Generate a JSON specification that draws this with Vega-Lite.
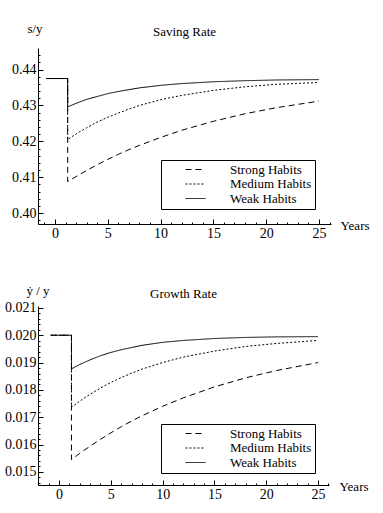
{
  "$schema": "https://vega.github.io/schema/vega-lite/v6.json",
  "padding": {"left": 4, "top": 22, "right": 0, "bottom": 0},
  "spacing": 41,
  "bounds": "full",
  "config": {
    "font": "Liberation Serif",
    "view": {"stroke": null},
    "title": {"font": "Liberation Serif", "fontSize": 13, "fontWeight": "normal", "color": "black"},
    "axis": {
      "grid": false,
      "domainColor": "black",
      "tickColor": "black",
      "labelColor": "black",
      "titleColor": "black",
      "labelFont": "Liberation Serif",
      "titleFont": "Liberation Serif",
      "labelFontSize": 14,
      "titleFontSize": 13,
      "titleFontWeight": "normal",
      "labelPadding": 7,
      "labelOverlap": false,
      "labelFlush": false
    },
    "legend": {
      "labelFont": "Liberation Serif",
      "labelFontSize": 13,
      "labelColor": "black"
    }
  },
  "resolve": {"scale": {"x": "independent", "y": "independent", "strokeDash": "independent"}, "legend": {"strokeDash": "independent"}},
  "vconcat": [
    {
      "width": 293,
      "height": 176,
      "title": {"text": "Saving Rate", "frame": "group", "offset": -17},
      "data": {"values": [
        {"h": "Strong Habits", "t": -0.85, "v": 0.4375},
        {"h": "Strong Habits", "t": 1.2, "v": 0.4375},
        {"h": "Strong Habits", "t": 1.2, "v": 0.4088},
        {"h": "Strong Habits", "t": 2, "v": 0.4102},
        {"h": "Strong Habits", "t": 3, "v": 0.4119},
        {"h": "Strong Habits", "t": 4, "v": 0.4135},
        {"h": "Strong Habits", "t": 5, "v": 0.4150},
        {"h": "Strong Habits", "t": 6, "v": 0.4164},
        {"h": "Strong Habits", "t": 7, "v": 0.4177},
        {"h": "Strong Habits", "t": 8, "v": 0.4189},
        {"h": "Strong Habits", "t": 10, "v": 0.4211},
        {"h": "Strong Habits", "t": 12, "v": 0.4231},
        {"h": "Strong Habits", "t": 15, "v": 0.4256},
        {"h": "Strong Habits", "t": 18, "v": 0.4277},
        {"h": "Strong Habits", "t": 21, "v": 0.4294},
        {"h": "Strong Habits", "t": 25, "v": 0.4312},
        {"h": "Medium Habits", "t": -0.85, "v": 0.4375},
        {"h": "Medium Habits", "t": 1.2, "v": 0.4375},
        {"h": "Medium Habits", "t": 1.2, "v": 0.4205},
        {"h": "Medium Habits", "t": 2, "v": 0.4221},
        {"h": "Medium Habits", "t": 3, "v": 0.4238},
        {"h": "Medium Habits", "t": 4, "v": 0.4254},
        {"h": "Medium Habits", "t": 5, "v": 0.4267},
        {"h": "Medium Habits", "t": 6, "v": 0.4279},
        {"h": "Medium Habits", "t": 7, "v": 0.4290},
        {"h": "Medium Habits", "t": 8, "v": 0.4300},
        {"h": "Medium Habits", "t": 10, "v": 0.4316},
        {"h": "Medium Habits", "t": 12, "v": 0.4328},
        {"h": "Medium Habits", "t": 15, "v": 0.4342},
        {"h": "Medium Habits", "t": 18, "v": 0.4352},
        {"h": "Medium Habits", "t": 21, "v": 0.4359},
        {"h": "Medium Habits", "t": 25, "v": 0.4364},
        {"h": "Weak Habits", "t": -0.85, "v": 0.4375},
        {"h": "Weak Habits", "t": 1.2, "v": 0.4375},
        {"h": "Weak Habits", "t": 1.2, "v": 0.4296},
        {"h": "Weak Habits", "t": 2, "v": 0.4306},
        {"h": "Weak Habits", "t": 3, "v": 0.4317},
        {"h": "Weak Habits", "t": 4, "v": 0.4325},
        {"h": "Weak Habits", "t": 5, "v": 0.4333},
        {"h": "Weak Habits", "t": 6, "v": 0.4339},
        {"h": "Weak Habits", "t": 7, "v": 0.4344},
        {"h": "Weak Habits", "t": 8, "v": 0.4349},
        {"h": "Weak Habits", "t": 10, "v": 0.4356},
        {"h": "Weak Habits", "t": 12, "v": 0.4361},
        {"h": "Weak Habits", "t": 15, "v": 0.4366},
        {"h": "Weak Habits", "t": 18, "v": 0.4369},
        {"h": "Weak Habits", "t": 21, "v": 0.4371},
        {"h": "Weak Habits", "t": 25, "v": 0.4372}
      ]},
      "mark": {"type": "line", "color": "black", "strokeWidth": 1},
      "encoding": {
        "x": {
          "field": "t", "type": "quantitative",
          "scale": {"domain": [-1.61, 26.14], "nice": false, "zero": false},
          "axis": {
            "values": [-1,0,1,2,3,4,5,6,7,8,9,10,11,12,13,14,15,16,17,18,19,20,21,22,23,24,25,26],
            "tickSize": {"condition": {"test": "datum.value % 5 === 0", "value": -5}, "value": -2},
            "labelExpr": "datum.value % 5 === 0 ? datum.label : ''",
            "title": "Years", "titleX": 302, "titleY": 1, "titleAlign": "left", "titleBaseline": "middle", "titleAngle": 0
          }
        },
        "y": {
          "field": "v", "type": "quantitative",
          "scale": {"domain": [0.397, 0.446], "nice": false, "zero": false},
          "axis": {
            "values": [0.398,0.400,0.402,0.404,0.406,0.408,0.410,0.412,0.414,0.416,0.418,0.420,0.422,0.424,0.426,0.428,0.430,0.432,0.434,0.436,0.438,0.440,0.442,0.444],
            "format": ".2f",
            "tickSize": {"condition": {"test": "round(datum.value*1000) % 10 === 0", "value": -5}, "value": -2},
            "labelExpr": "round(datum.value*1000) % 10 === 0 ? datum.label : ''",
            "title": "s/y", "titleX": -3.5, "titleY": -20, "titleAlign": "center", "titleBaseline": "middle", "titleAngle": 0
          }
        },
        "strokeDash": {
          "field": "h", "type": "nominal",
          "scale": {"domain": ["Strong Habits", "Medium Habits", "Weak Habits"], "range": [[6, 4], [2, 2], [1, 0]]},
          "legend": {
            "orient": "none", "legendX": 123, "legendY": 112, "title": null,
            "symbolType": "M-2,0H2", "symbolSize": 100, "symbolStrokeColor": "black", "symbolStrokeWidth": 1,
            "strokeColor": "black", "padding": 3, "symbolOffset": 25, "labelOffset": 28, "rowPadding": 0.5,
            "labelExpr": "datum.label + '\u00a0\u00a0\u00a0\u00a0\u00a0\u00a0\u00a0\u00a0\u00a0\u00a0'"
          }
        }
      }
    },
    {
      "width": 291,
      "height": 179,
      "title": {"text": "Growth Rate", "frame": "group", "offset": -17},
      "data": {"values": [
        {"h": "Strong Habits", "t": -0.8, "v": 0.0200},
        {"h": "Strong Habits", "t": 1.2, "v": 0.0200},
        {"h": "Strong Habits", "t": 1.2, "v": 0.01545},
        {"h": "Strong Habits", "t": 2, "v": 0.01568},
        {"h": "Strong Habits", "t": 3, "v": 0.01594},
        {"h": "Strong Habits", "t": 4, "v": 0.01619},
        {"h": "Strong Habits", "t": 5, "v": 0.01643},
        {"h": "Strong Habits", "t": 6, "v": 0.01665},
        {"h": "Strong Habits", "t": 7, "v": 0.01686},
        {"h": "Strong Habits", "t": 8, "v": 0.01705},
        {"h": "Strong Habits", "t": 10, "v": 0.01740},
        {"h": "Strong Habits", "t": 12, "v": 0.01771},
        {"h": "Strong Habits", "t": 15, "v": 0.01811},
        {"h": "Strong Habits", "t": 18, "v": 0.01844},
        {"h": "Strong Habits", "t": 21, "v": 0.01871},
        {"h": "Strong Habits", "t": 25, "v": 0.01900},
        {"h": "Medium Habits", "t": -0.8, "v": 0.0200},
        {"h": "Medium Habits", "t": 1.2, "v": 0.0200},
        {"h": "Medium Habits", "t": 1.2, "v": 0.01737},
        {"h": "Medium Habits", "t": 2, "v": 0.01759},
        {"h": "Medium Habits", "t": 3, "v": 0.01784},
        {"h": "Medium Habits", "t": 4, "v": 0.01807},
        {"h": "Medium Habits", "t": 5, "v": 0.01827},
        {"h": "Medium Habits", "t": 6, "v": 0.01845},
        {"h": "Medium Habits", "t": 7, "v": 0.01861},
        {"h": "Medium Habits", "t": 8, "v": 0.01876},
        {"h": "Medium Habits", "t": 10, "v": 0.01900},
        {"h": "Medium Habits", "t": 12, "v": 0.01920},
        {"h": "Medium Habits", "t": 15, "v": 0.01942},
        {"h": "Medium Habits", "t": 18, "v": 0.01959},
        {"h": "Medium Habits", "t": 21, "v": 0.01970},
        {"h": "Medium Habits", "t": 25, "v": 0.01981},
        {"h": "Weak Habits", "t": -0.8, "v": 0.0200},
        {"h": "Weak Habits", "t": 1.2, "v": 0.0200},
        {"h": "Weak Habits", "t": 1.2, "v": 0.01877},
        {"h": "Weak Habits", "t": 2, "v": 0.01893},
        {"h": "Weak Habits", "t": 3, "v": 0.01910},
        {"h": "Weak Habits", "t": 4, "v": 0.01925},
        {"h": "Weak Habits", "t": 5, "v": 0.01937},
        {"h": "Weak Habits", "t": 6, "v": 0.01947},
        {"h": "Weak Habits", "t": 7, "v": 0.01955},
        {"h": "Weak Habits", "t": 8, "v": 0.01963},
        {"h": "Weak Habits", "t": 10, "v": 0.01974},
        {"h": "Weak Habits", "t": 12, "v": 0.01981},
        {"h": "Weak Habits", "t": 15, "v": 0.01988},
        {"h": "Weak Habits", "t": 18, "v": 0.01992},
        {"h": "Weak Habits", "t": 21, "v": 0.01994},
        {"h": "Weak Habits", "t": 25, "v": 0.01995}
      ]},
      "mark": {"type": "line", "color": "black", "strokeWidth": 1},
      "encoding": {
        "x": {
          "field": "t", "type": "quantitative",
          "scale": {"domain": [-2.03, 26.06], "nice": false, "zero": false},
          "axis": {
            "values": [-2,-1,0,1,2,3,4,5,6,7,8,9,10,11,12,13,14,15,16,17,18,19,20,21,22,23,24,25,26],
            "tickSize": {"condition": {"test": "datum.value % 5 === 0", "value": -5}, "value": -2},
            "labelExpr": "datum.value % 5 === 0 ? datum.label : ''",
            "title": "Years", "titleX": 301, "titleY": 1, "titleAlign": "left", "titleBaseline": "middle", "titleAngle": 0
          }
        },
        "y": {
          "field": "v", "type": "quantitative",
          "scale": {"domain": [0.01452, 0.02107], "nice": false, "zero": false},
          "axis": {
            "values": [0.0146,0.0148,0.0150,0.0152,0.0154,0.0156,0.0158,0.0160,0.0162,0.0164,0.0166,0.0168,0.0170,0.0172,0.0174,0.0176,0.0178,0.0180,0.0182,0.0184,0.0186,0.0188,0.0190,0.0192,0.0194,0.0196,0.0198,0.0200,0.0202,0.0204,0.0206,0.0208,0.0210],
            "format": ".3f",
            "tickSize": {"condition": {"test": "round(datum.value*10000) % 10 === 0", "value": -5}, "value": -2},
            "labelExpr": "round(datum.value*10000) % 10 === 0 ? datum.label : ''",
            "title": "ẏ / y", "titleX": -0.5, "titleY": -16, "titleAlign": "center", "titleBaseline": "middle", "titleAngle": 0
          }
        },
        "strokeDash": {
          "field": "h", "type": "nominal",
          "scale": {"domain": ["Strong Habits", "Medium Habits", "Weak Habits"], "range": [[6, 4], [2, 2], [1, 0]]},
          "legend": {
            "orient": "none", "legendX": 123, "legendY": 118, "title": null,
            "symbolType": "M-2,0H2", "symbolSize": 100, "symbolStrokeColor": "black", "symbolStrokeWidth": 1,
            "strokeColor": "black", "padding": 3, "symbolOffset": 25, "labelOffset": 28, "rowPadding": 0.5,
            "labelExpr": "datum.label + '\u00a0\u00a0\u00a0\u00a0\u00a0\u00a0\u00a0\u00a0\u00a0\u00a0'"
          }
        }
      }
    }
  ]
}
